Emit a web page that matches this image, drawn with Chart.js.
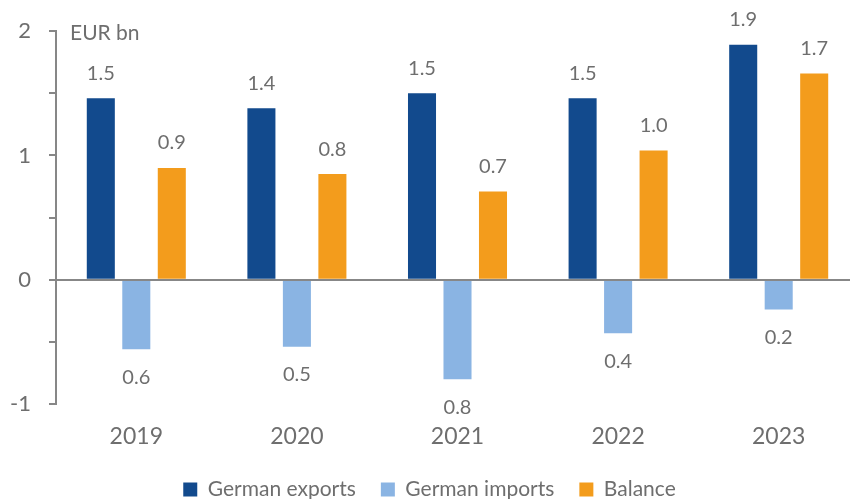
<!DOCTYPE html>
<html>
<head>
<meta charset="utf-8">
<script src="https://cdn.jsdelivr.net/npm/chart.js@4/dist/chart.umd.min.js"></script>
<style>
  html, body { margin: 0; padding: 0; background: #ffffff; overflow: hidden; }
  #wrap { width: 878px; height: 499px; }
</style>
</head>
<body>
<div id="wrap"><canvas id="c" width="878" height="499"></canvas></div>
<script>
const categories = ['2019', '2020', '2021', '2022', '2023'];
const germanExports = [1.46, 1.38, 1.50, 1.46, 1.89];
const germanImports = [-0.56, -0.54, -0.80, -0.43, -0.24];
const balance = [0.90, 0.85, 0.71, 1.04, 1.66];
const yTickLabels = [-1, 0, 1, 2];
const seriesNames = ['German exports', 'German imports', 'Balance'];
const unitLabel = 'EUR bn';

const TEXT = '#6e6e6e';
const AXIS = '#878787';
const FONT = 'Lato, "Open Sans", sans-serif';

const dataLabels = {
  id: 'dataLabels',
  afterDatasetsDraw(chart) {
    const ctx = chart.ctx;
    ctx.save();
    ctx.font = '20px ' + FONT;
    ctx.fillStyle = TEXT;
    ctx.textAlign = 'center';
    ctx.textBaseline = 'middle';
    chart.data.datasets.forEach((ds, i) => {
      const meta = chart.getDatasetMeta(i);
      meta.data.forEach((el, j) => {
        const v = ds.data[j];
        const y = v >= 0 ? el.y - 25 : el.y + 28;
        ctx.fillText(Math.abs(v).toFixed(1), el.x, y);
      });
    });
    ctx.restore();
  }
};

const zeroLine = {
  id: 'zeroLine',
  afterDatasetsDraw(chart) {
    const ctx = chart.ctx;
    const ys = chart.scales.y;
    const y0 = Math.round(ys.getPixelForValue(0));
    ctx.save();
    ctx.strokeStyle = AXIS;
    ctx.lineWidth = 2;
    ctx.beginPath();
    ctx.moveTo(chart.chartArea.left, y0);
    ctx.lineTo(chart.chartArea.right, y0);
    ctx.stroke();
    ctx.font = '21px ' + FONT;
    ctx.fillStyle = TEXT;
    ctx.textAlign = 'left';
    ctx.textBaseline = 'middle';
    ctx.fillText(unitLabel, chart.chartArea.left + 14, chart.chartArea.top + 2);
    ctx.restore();
  }
};

new Chart(document.getElementById('c'), {
  type: 'bar',
  data: {
    labels: categories,
    datasets: [
      { label: seriesNames[0], data: germanExports, backgroundColor: '#124a8d' },
      { label: seriesNames[1], data: germanImports, backgroundColor: '#8ab4e3' },
      { label: seriesNames[2], data: balance, backgroundColor: '#f39c1c' }
    ]
  },
  options: {
    responsive: false,
    animation: false,
    devicePixelRatio: 1,
    layout: { padding: { top: 29, right: 19, left: 0, bottom: -11 } },
    datasets: { bar: { categoryPercentage: 0.663, barPercentage: 0.79 } },
    scales: {
      x: {
        grid: { display: false, drawTicks: false },
        border: { display: false },
        afterFit(scale) { scale.height = 50; },
        ticks: { color: TEXT, font: { family: FONT, size: 23 }, padding: 19 }
      },
      y: {
        min: -1,
        max: 2,
        afterFit(scale) { scale.width = 56; },
        ticks: {
          stepSize: 0.5,
          color: TEXT,
          font: { family: FONT, size: 22 },
          padding: 18,
          callback: (v) => (yTickLabels.includes(v) ? String(v) : '')
        },
        grid: { drawOnChartArea: false, drawTicks: true, tickLength: 7, color: AXIS, lineWidth: 2 },
        border: { display: true, color: AXIS, width: 2 }
      }
    },
    plugins: {
      legend: {
        position: 'bottom',
        labels: {
          color: TEXT,
          font: { family: FONT, size: 21 },
          boxWidth: 14,
          boxHeight: 14,
          padding: 25
        }
      },
      tooltip: { enabled: false }
    }
  },
  plugins: [dataLabels, zeroLine]
});
</script>
</body>
</html>
